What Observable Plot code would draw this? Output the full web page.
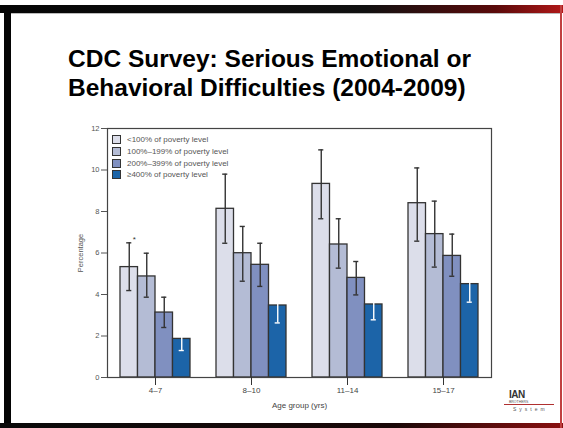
<!DOCTYPE html>
<html>
<head>
<meta charset="utf-8">
<script src="https://cdn.jsdelivr.net/npm/d3@7"></script>
<script src="https://cdn.jsdelivr.net/npm/@observablehq/plot@0.6"></script>
<style>
  html, body { margin: 0; padding: 0; background: #fff; }
  #slide { position: relative; width: 563px; height: 428px; overflow: hidden; background: #fff; font-family: "Liberation Sans", Arial, sans-serif; }
  .band { position: absolute; }
  #title { position: absolute; left: 68px; top: 44px; font-size: 24.5px; line-height: 29px; font-weight: bold; color: #000; white-space: nowrap; }
  #chart { position: absolute; left: 0; top: 120px; }
  #legend { position: absolute; left: 112px; top: 134px; font-size: 8px; color: #555; }
  #legend .row { display: flex; align-items: center; height: 11.7px; }
  #legend .sw { width: 7px; height: 7px; border: 1px solid #333; margin-right: 6px; }
  #logo { position: absolute; left: 500px; top: 390px; width: 60px; color: #333; }
</style>
</head>
<body>
<div id="slide">
  <div class="band" style="left:0;top:5px;width:563px;height:8px;background:linear-gradient(to right,#050505 0%,#111 65%,#5a0a0a 88%,#b01818 100%);"></div>
  <div class="band" style="left:4px;top:5px;width:7px;height:423px;background:#050505;"></div>
  <div class="band" style="left:0;top:423px;width:563px;height:5px;background:linear-gradient(to right,#0a0a0a 0%,#1a0808 70%,#8a1010 100%);"></div>
  <div class="band" style="left:560px;top:5px;width:2px;height:423px;background:#c04040;"></div>
  <div class="band" style="left:11px;top:13px;width:549px;height:1px;background:#bbb;"></div>
  <div id="title">CDC Survey: Serious Emotional or<br>Behavioral Difficulties (2004-2009)</div>
  <div id="chart"></div>
  <div id="legend"></div>
  <div id="logo">
    <div style="font-size:10px;font-weight:bold;line-height:10px;margin-left:9px;letter-spacing:-0.5px;">IAN</div>
    <div style="font-size:3.5px;line-height:4px;margin-left:9px;color:#555;">BROTHERS</div>
    <div style="height:1px;background:#b03030;margin-left:4px;width:50px;"></div>
    <div style="font-size:5px;line-height:8px;margin-left:13px;letter-spacing:3px;color:#555;">System</div>
  </div>
</div>
<script>
// ---- data ----
const groups = ["4–7", "8–10", "11–14", "15–17"];
const series = ["<100% of poverty level", "100%–199% of poverty level", "200%–399% of poverty level", "≥400% of poverty level"];
const colors = ["#dcdeea", "#b4bcd5", "#8090c0", "#1c64a8"];
const values = [
  [5.32, 8.13, 9.33, 8.40],
  [4.87, 5.99, 6.41, 6.91],
  [3.13, 5.43, 4.80, 5.86],
  [1.86, 3.47, 3.52, 4.50]
];
const lows = [
  [4.19, 6.47, 7.65, 6.57],
  [3.87, 4.64, 5.27, 5.32],
  [2.41, 4.39, 3.98, 4.88],
  [1.30, 2.63, 2.78, 3.63]
];
const highs = [
  [6.49, 9.80, 10.97, 10.10],
  [5.99, 7.28, 7.65, 8.50],
  [3.87, 6.47, 5.59, 6.91],
  [2.35, 4.32, 4.19, 5.36]
];
const notes = [["*", "", "", ""], ["", "", "", ""], ["", "", "", ""], ["", "", "", ""]];
const yTicks = [0, 2, 4, 6, 8, 10, 12];

const table = [];
series.forEach((s, i) => groups.forEach((g, j) => {
  table.push({group: g, series: s, si: i, value: values[i][j], low: lows[i][j], high: highs[i][j], note: notes[i][j]});
}));
const dark = table.filter(d => d.si < 3);
const light = table.filter(d => d.si === 3);

const axisFont = "Liberation Sans, Arial, sans-serif";
const chart = Plot.plot({
  width: 563,
  height: 300,
  marginLeft: 107,
  marginRight: 72,
  marginTop: 8,
  marginBottom: 43,
  style: {fontFamily: axisFont, fontSize: "8px", color: "#444", background: "transparent"},
  fx: {domain: groups, padding: 0, round: false},
  x: {domain: series, paddingInner: 0, paddingOuter: 0.743, round: false, axis: null},
  y: {domain: [0, 12]},
  color: {domain: series, range: colors},
  marks: [
    Plot.barY(table, {fx: "group", x: "series", y: "value", fill: "series", stroke: "#333", strokeWidth: 1.3}),
    Plot.ruleX(dark, {fx: "group", x: "series", y1: "low", y2: "high", stroke: "#333", strokeWidth: 1.4}),
    Plot.tickY(dark, {fx: "group", x: "series", y: "low", stroke: "#333", strokeWidth: 1.4, insetLeft: 6.2, insetRight: 6.2}),
    Plot.tickY(dark, {fx: "group", x: "series", y: "high", stroke: "#333", strokeWidth: 1.4, insetLeft: 6.2, insetRight: 6.2}),
    Plot.ruleX(light, {fx: "group", x: "series", y1: "low", y2: "high", stroke: "#fff", strokeWidth: 1.4}),
    Plot.tickY(light, {fx: "group", x: "series", y: "low", stroke: "#fff", strokeWidth: 1.4, insetLeft: 6.2, insetRight: 6.2}),
    Plot.tickY(light, {fx: "group", x: "series", y: "high", stroke: "#fff", strokeWidth: 1.4, insetLeft: 6.2, insetRight: 6.2}),
    Plot.text(table.filter(d => d.note), {fx: "group", x: "series", y: "high", text: "note", dx: 5, dy: -3, fontSize: 8, fill: "#333"}),
    Plot.frame({stroke: "#444", strokeWidth: 1.2, facet: "super"}),
    Plot.axisY({ticks: yTicks, tickSize: 6, tickPadding: 2, fontSize: 7.5, stroke: "#555", fill: "#555",
      label: "Percentage", labelAnchor: "center", labelOffset: 30, labelArrow: "none"}),
    Plot.axisFx({anchor: "bottom", tickSize: 8, tickPadding: 2, fontSize: 8, stroke: "#333", fill: "#444",
      label: "Age group (yrs)", labelAnchor: "center", labelOffset: 30, labelArrow: "none"})
  ]
});
document.getElementById("chart").appendChild(chart);

const legend = document.getElementById("legend");
series.forEach((s, i) => {
  const row = document.createElement("div");
  row.className = "row";
  const sw = document.createElement("div");
  sw.className = "sw";
  sw.style.background = colors[i];
  const t = document.createElement("span");
  t.textContent = s;
  row.appendChild(sw);
  row.appendChild(t);
  legend.appendChild(row);
});
</script>
</body>
</html>
